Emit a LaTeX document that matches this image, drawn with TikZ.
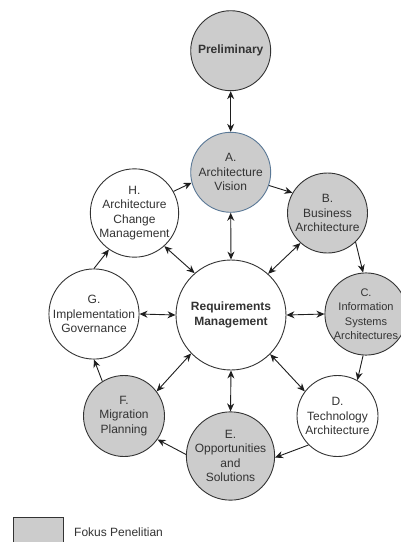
\documentclass[tikz,border=0pt]{standalone}
\usepackage{fontspec}
\setmainfont{Liberation Sans}
\usetikzlibrary{arrows.meta}
\definecolor{fillg}{RGB}{204,204,204}
\definecolor{edgeg}{RGB}{51,51,51}
\definecolor{txtg}{RGB}{51,51,51}
\definecolor{edgeb}{RGB}{90,120,150}
\definecolor{linec}{RGB}{30,30,30}
\tikzset{
  phase/.style={circle, draw=edgeg, line width=0.9pt, inner sep=0pt, minimum size=80pt,
    align=center, text=txtg, font=\fontsize{12}{14.5}\selectfont},
  focus/.style={phase, fill=fillg},
  plain/.style={phase, fill=white},
  conn/.style={draw=linec, line width=0.9pt, -{Stealth[length=8pt,width=7pt]}},
  dconn/.style={draw=linec, line width=0.9pt, {Stealth[length=8pt,width=7pt]}-{Stealth[length=8pt,width=7pt]}}
}
\begin{document}
\begin{tikzpicture}[x=1pt,y=-1pt]
\useasboundingbox (0,0) rectangle (400,542);
\fill[white] (0,0) rectangle (400,542);
% nodes
\node[focus, font=\bfseries\fontsize{12}{14.5}\selectfont] (P) at (230.7,50.7) {Preliminary};
\node[focus, draw=edgeb] (A) at (230.7,172.3) {A.\\Architecture\\Vision};
\node[plain] (H) at (134.5,213) {H.\\Architecture\\Change\\Management};
\node[focus] (B) at (327.5,213) {B.\\Business\\Architecture};
\node[plain, minimum size=110pt, font=\bfseries\fontsize{12}{15}\selectfont] (R) at (231,315) {Requirements\\Management};
\node[plain, minimum size=82pt] (G) at (94,314) {G.\\Implementation\\Governance};
\node[focus, minimum size=79pt, font=\fontsize{11}{14.5}\selectfont] (C) at (366,314) {C.\\Information\\Systems\\Architectures};
\node[plain, minimum size=81pt] (D) at (337.5,416) {D.\\Technology\\Architecture};
\node[focus, minimum size=82pt] (E) at (230.5,456) {E.\\Opportunities\\and\\Solutions};
\node[focus, minimum size=81pt] (F) at (124,416) {F.\\Migration\\Planning};
% cycle
\draw[conn] (H.29) -- (A.195);
\draw[conn] (A.341) -- (B.150);
\draw[conn] (B.314) -- (C.94);
\draw[conn] (C.266) -- (D.61);
\draw[conn] (D.225) -- (E.358);
\draw[conn] (E.178) -- (F.325);
\draw[conn] (F.122) -- (G.270);
\draw[conn] (G.90) -- (H.235);
% double
\draw[dconn] (P.270) -- (A.90);
\draw[dconn] (A.270) -- (R.90);
\draw[dconn] (H.312) -- (R.131);
\draw[dconn] (B.228) -- (R.48);
\draw[dconn] (R.0) -- (C.180);
\draw[dconn] (R.180) -- (G.0);
\draw[dconn] (F.37) -- (R.224);
\draw[dconn] (R.315) -- (D.143);
\draw[dconn] (R.270) -- (E.90);
% legend
\node[draw=edgeg, fill=fillg, line width=0.9pt, minimum width=50.5pt, minimum height=32pt, inner sep=0pt, anchor=north west] (L) at (12.5,517) {};
\node[anchor=west, text=txtg, font=\fontsize{12}{14.5}\selectfont, inner sep=0pt] (LT) at (74,532) {Fokus Penelitian};
\end{tikzpicture}
\end{document}
